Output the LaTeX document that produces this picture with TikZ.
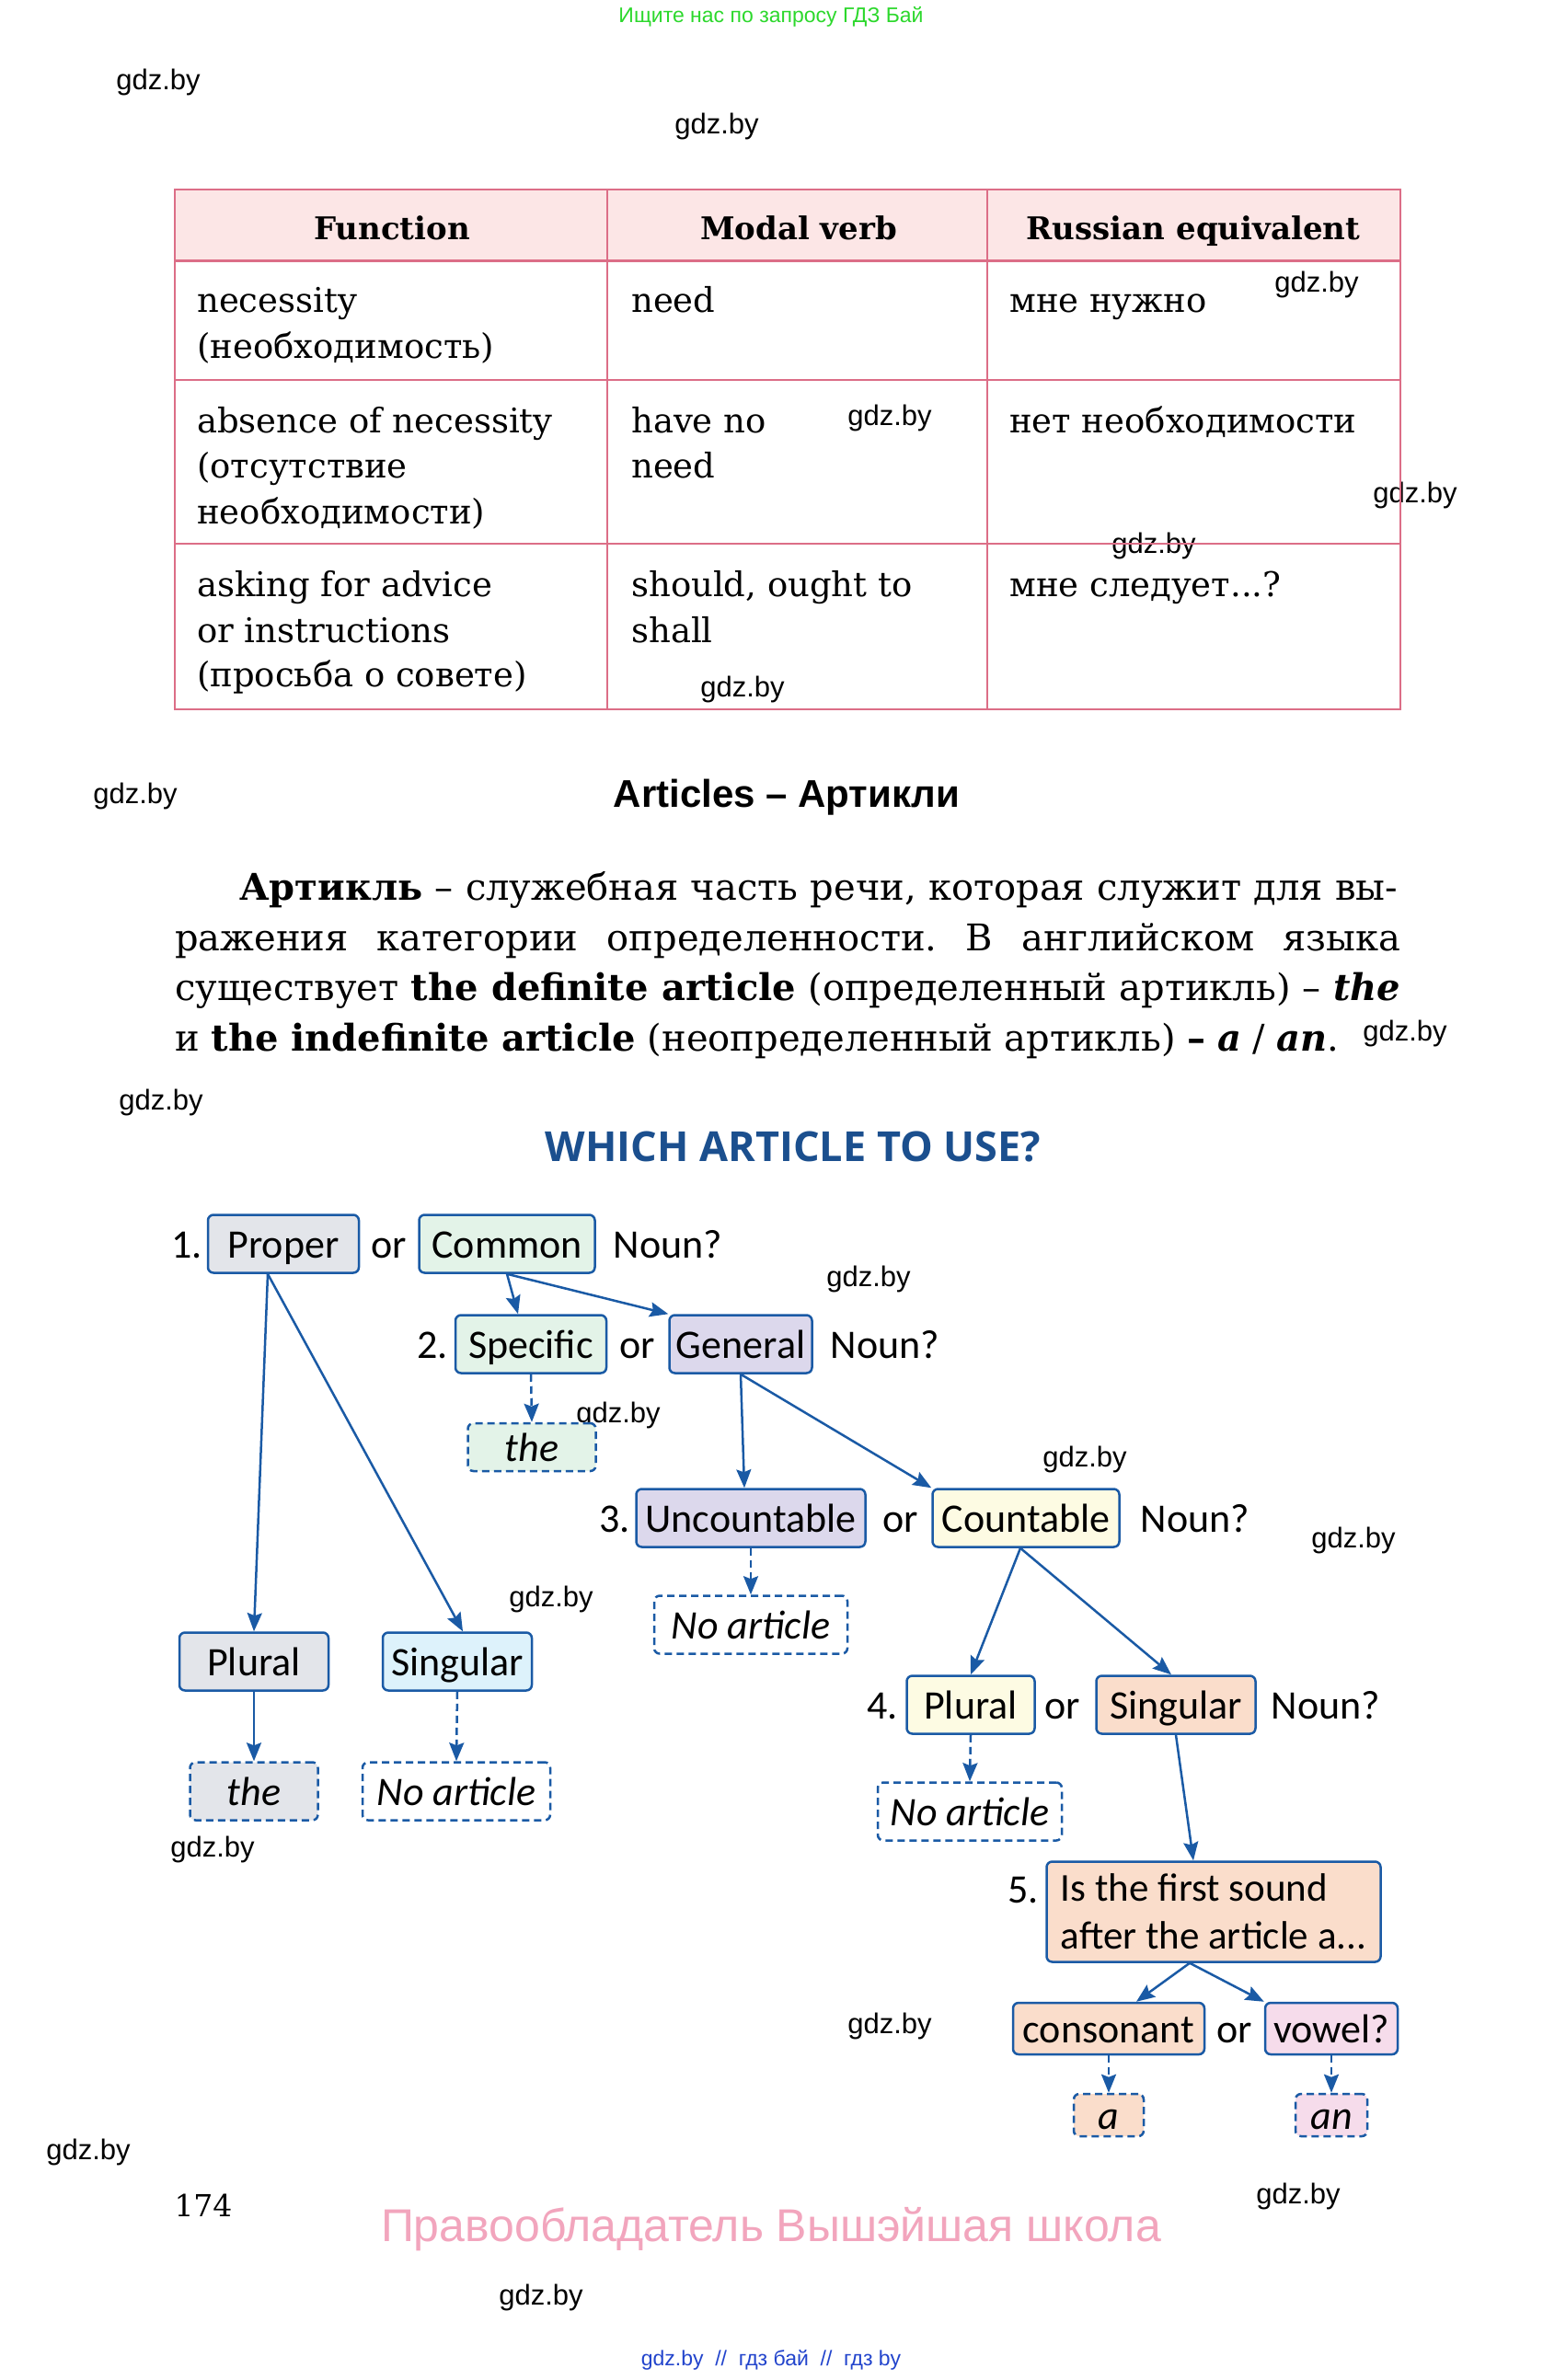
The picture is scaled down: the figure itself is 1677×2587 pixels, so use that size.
\documentclass[tikz,border=0pt]{standalone}
\usepackage{fontspec,tikz}
\usetikzlibrary{arrows.meta}
\setmainfont{DejaVu Serif}
\newfontfamily\flowfont{Carlito}
\newfontfamily\wmfont{Liberation Sans}
\newfontfamily\headfont{Open Sans}
\frenchspacing

\definecolor{tabline}{HTML}{DC6E87}
\definecolor{tabhead}{HTML}{FCE6E6}
\definecolor{flowblue}{HTML}{1A5AA5}
\definecolor{titleblue}{HTML}{1B4F8E}
\definecolor{greyfill}{HTML}{E3E5EA}
\definecolor{greenfill}{HTML}{E3F3E8}
\definecolor{lilacfill}{HTML}{DCD8EC}
\definecolor{yellowfill}{HTML}{FDFBE3}
\definecolor{bluefill}{HTML}{DDF2FB}
\definecolor{peachfill}{HTML}{FADDCB}
\definecolor{pinkfill}{HTML}{F6DCEB}
\definecolor{topgreen}{HTML}{2CD82C}
\definecolor{rightspink}{HTML}{F2A5BD}
\definecolor{linkblue}{HTML}{2244CC}

\tikzset{
  wm/.style={inner sep=0pt,font=\wmfont\fontsize{31}{37}\selectfont},
  cell/.style={anchor=base west,inner sep=0pt,font=\fontsize{37}{44}\selectfont},
  headcell/.style={anchor=base,inner sep=0pt,font=\fontsize{34}{40}\selectfont\bfseries},
  parline/.style={anchor=base west,inner sep=0pt,font=\fontsize{40}{48}\selectfont},
  flowtxt/.style={inner sep=0pt,text height=33pt,text depth=2pt,font=\flowfont\fontsize{44}{52}\selectfont},
  qbox/.style={flowtxt,draw=flowblue,line width=2.5pt,rounded corners=6pt,minimum height=63pt},
  abox/.style={qbox,dash pattern=on 8pt off 5pt,font=\flowfont\itshape\fontsize{44}{52}\selectfont},
  flowarrow/.style={draw=flowblue,line width=2.5pt,-{Stealth[length=20pt,width=16pt,inset=3pt]}},
  dasharrow/.style={flowarrow,dash pattern=on 8pt off 5pt},
}

\begin{document}
\begin{tikzpicture}[x=1pt,y=-1pt]
\path[use as bounding box,fill=white] (0,0) rectangle (1677,2587);
% page head and watermarks
\node[inner sep=0pt,font=\wmfont\fontsize{23}{28}\selectfont,text=topgreen] (search) at (838,18) {Ищите нас по запросу ГДЗ Бай};
\foreach \x/\y [count=\i] in {172/89,779/137,1431/309,967/454,1538/538,1254/593,807/749,147/865,1527/1123,175/1198,944/1390,672/1538,1179/1586,1471/1674,599/1738,231/2010,967/2202,96/2339,1411/2387,588/2497}
  \node[wm] (wm\i) at (\x,\y) {gdz.by};
% table
\fill[tabhead] (190,206) rectangle (1522,284);
\draw[tabline,line width=3pt] (190,284) -- (1522,284);
\draw[tabline,line width=2.5pt] (190,413) -- (1522,413);
\draw[tabline,line width=2.5pt] (190,591) -- (1522,591);
\draw[tabline,line width=2.5pt] (660,206) -- (660,771);
\draw[tabline,line width=2.5pt] (1073,206) -- (1073,771);
\draw[tabline,line width=2.5pt] (190,206) rectangle (1522,771);
\node[headcell] (hfunc) at (426,261) {Function};
\node[headcell] (hmodal) at (868,261) {Modal verb};
\node[headcell] (hruss) at (1297,261) {Russian equivalent};
\node[cell] (c11a) at (214,339) {necessity};
\node[cell] (c11b) at (214,389) {(необходимость)};
\node[cell] (c12) at (686,339) {need};
\node[cell] (c13) at (1097,339) {мне нужно};
\node[cell] (c21a) at (214,470) {absence of necessity};
\node[cell] (c21b) at (214,519) {(отсутствие};
\node[cell] (c21c) at (214,569) {необходимости)};
\node[cell] (c22a) at (686,470) {have no};
\node[cell] (c22b) at (686,519) {need};
\node[cell] (c23) at (1097,470) {нет необходимости};
\node[cell] (c31a) at (214,648) {asking for advice};
\node[cell] (c31b) at (214,698) {or instructions};
\node[cell] (c31c) at (214,746) {(просьба о совете)};
\node[cell] (c32a) at (686,648) {should, ought to};
\node[cell] (c32b) at (686,698) {shall};
\node[cell] (c33) at (1097,648) {мне следует...?};
% articles text
\node[anchor=base,inner sep=0pt,font=\wmfont\bfseries\fontsize{42}{50}\selectfont] (arttitle) at (855,877) {Articles – Артикли};
\node[parline] (par1) at (260,978) {\makebox[1259pt][s]{\textbf{Артикль} – служебная часть речи, которая служит для вы-}};
\node[parline] (par2) at (190,1033) {\makebox[1332pt][s]{ражения категории определенности. В английском языка}};
\node[parline] (par3) at (190,1087) {\makebox[1332pt][s]{существует \textbf{the definite article} (определенный артикль) – \textbf{\textit{the}}}};
\node[parline] (par4) at (190,1142) {и \textbf{the indefinite article} (неопределенный артикль) \textbf{–} \textbf{\textit{a}} / \textbf{\textit{an}}.};
\node[inner sep=0pt,font=\headfont\bfseries\fontsize{45}{54}\selectfont,text=titleblue] (which) at (862,1246) {WHICH ARTICLE TO USE?};
% flow chart
\node[flowtxt] (num1) at (203,1352) {1.};
\node[qbox,fill=greyfill,minimum width=164pt] (proper) at (308,1352) {Proper};
\node[flowtxt] (or1) at (423,1352) {or};
\node[qbox,fill=greenfill,minimum width=191pt] (common) at (551,1352) {Common};
\node[flowtxt] (noun1) at (726,1352) {Noun?};
\node[flowtxt] (num2) at (470,1461) {2.};
\node[qbox,fill=greenfill,minimum width=164pt] (specific) at (577,1461) {Specific};
\node[flowtxt] (or2) at (693,1461) {or};
\node[qbox,fill=lilacfill,minimum width=155pt] (general) at (805,1461) {General};
\node[flowtxt] (noun2) at (962,1461) {Noun?};
\node[abox,fill=greenfill,minimum width=139pt,minimum height=52pt] (the1) at (578,1573) {the};
\node[flowtxt] (num3) at (668,1650) {3.};
\node[qbox,fill=lilacfill,minimum width=249pt] (uncount) at (816,1650) {Uncountable};
\node[flowtxt] (or3) at (979,1650) {or};
\node[qbox,fill=yellowfill,minimum width=203pt] (count) at (1115,1650) {Countable};
\node[flowtxt] (noun3) at (1299,1650) {Noun?};
\node[abox,fill=white,minimum width=210pt] (noart1) at (816,1766) {No article};
\node[qbox,fill=greyfill,minimum width=162pt] (plural) at (276,1806) {Plural};
\node[qbox,fill=bluefill,minimum width=162pt] (singular) at (497,1806) {Singular};
\node[abox,fill=greyfill,minimum width=139pt] (the2) at (276,1947) {the};
\node[abox,fill=white,minimum width=204pt] (noart2) at (496,1947) {No article};
\node[flowtxt] (num4) at (959,1853) {4.};
\node[qbox,fill=yellowfill,minimum width=139pt] (plural4) at (1055,1853) {Plural};
\node[flowtxt] (or4) at (1155,1853) {or};
\node[qbox,fill=peachfill,minimum width=173pt] (singular4) at (1278,1853) {Singular};
\node[flowtxt] (noun4) at (1441,1853) {Noun?};
\node[abox,fill=white,minimum width=200pt] (noart3) at (1054,1969) {No article};
\node[flowtxt] (num5) at (1112,2053) {5.};
\node[qbox,fill=peachfill,minimum width=363pt,minimum height=109pt,text height=,text depth=,align=left,font=\flowfont\fontsize{43}{52}\selectfont] (sound) at (1319,2078) {Is the first sound\\after the article a...};
\node[qbox,fill=peachfill,minimum width=208pt,minimum height=56pt] (consonant) at (1205,2205) {consonant};
\node[flowtxt] (or5) at (1342,2205) {or};
\node[qbox,fill=pinkfill,minimum width=144pt,minimum height=56pt] (vowel) at (1447,2205) {vowel?};
\node[abox,fill=peachfill,minimum width=76pt,minimum height=46pt] (arta) at (1205,2299) {a};
\node[abox,fill=pinkfill,minimum width=78pt,minimum height=46pt] (artan) at (1447,2299) {an};
\draw[flowarrow] ([xshift=-17pt]proper.south) -- (plural.north);
\draw[flowarrow] ([xshift=-17pt]proper.south) -- ([xshift=6pt]singular.north);
\draw[flowarrow] (common.south) -- ([xshift=-14pt]specific.north);
\draw[flowarrow] (common.south) -- (general.north west);
\draw[dasharrow] (specific.south) -- (the1.north);
\draw[flowarrow] (general.south) -- ([xshift=-7pt]uncount.north);
\draw[flowarrow] (general.south) -- (count.north west);
\draw[dasharrow] (uncount.south) -- (noart1.north);
\draw[flowarrow] (plural.south) -- (the2.north);
\draw[dasharrow] (singular.south) -- (noart2.north);
\draw[flowarrow] ([xshift=-6pt]count.south) -- (plural4.north);
\draw[flowarrow] ([xshift=-6pt]count.south) -- ([xshift=-5pt]singular4.north);
\draw[dasharrow] (plural4.south) -- (noart3.north);
\draw[flowarrow] (singular4.south) -- ([xshift=-22pt]sound.north);
\draw[flowarrow] ([xshift=-26pt]sound.south) -- ([xshift=30pt]consonant.north);
\draw[flowarrow] ([xshift=-26pt]sound.south) -- (vowel.north west);
\draw[dasharrow] (consonant.south) -- (arta.north);
\draw[dasharrow] (vowel.south) -- (artan.north);
% page foot
\node[inner sep=0pt,font=\fontsize{33}{40}\selectfont] (pagenum) at (221,2397) {174};
\node[inner sep=0pt,font=\wmfont\fontsize{50}{60}\selectfont,text=rightspink] (rights) at (838,2423) {Правообладатель Вышэйшая школа};
\node[inner sep=0pt,font=\wmfont\fontsize{23}{28}\selectfont,text=linkblue] (links) at (838,2565) {gdz.by \ // \ гдз бай \ // \ гдз by};
\end{tikzpicture}
\end{document}
